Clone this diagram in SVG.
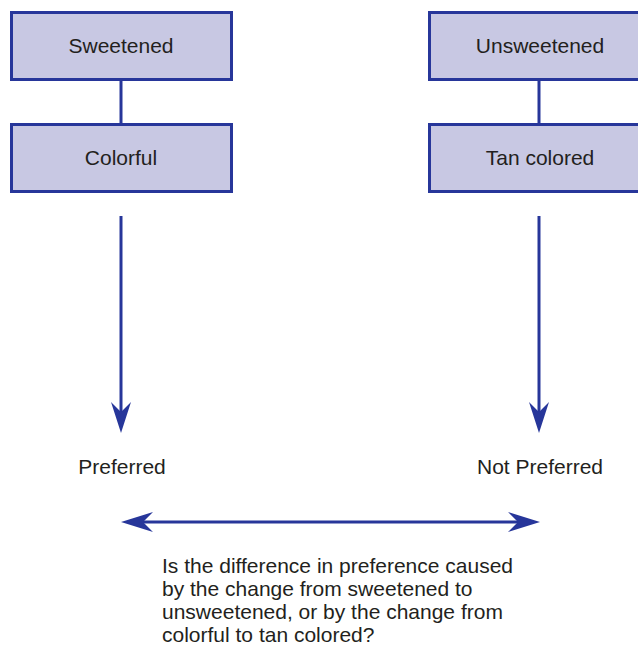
<svg xmlns="http://www.w3.org/2000/svg" width="638" height="646" viewBox="0 0 638 646">
<style>
.box{fill:#c8c8e3;stroke:#27369a;stroke-width:3}
.lbl{font-family:"Liberation Sans",Arial,sans-serif;font-size:21px;fill:#231f20}
.c{text-anchor:middle}
.ln{stroke:#27369a;stroke-width:3;fill:none}
.ah{fill:#27369a}
</style>
<rect width="638" height="646" fill="#fff"/>
<g id="connectors">
<line class="ln" x1="121" y1="79" x2="121" y2="124"/>
<line class="ln" x1="539" y1="79" x2="539" y2="124"/>
<line class="ln" x1="121" y1="216" x2="121" y2="420"/>
<path class="ah" d="M121,433 L111,402 L121,412 L131,402 Z"/>
<line class="ln" x1="539" y1="216" x2="539" y2="420"/>
<path class="ah" d="M539,433 L529,402 L539,412 L549,402 Z"/>
<line class="ln" x1="135" y1="522" x2="525" y2="522"/>
<path class="ah" d="M121,522 L153,512 L143,522 L153,532 Z"/>
<path class="ah" d="M540,522 L508,512 L518,522 L508,532 Z"/>
</g>
<g id="sweetened"><rect class="box" x="11.5" y="12.5" width="220" height="67"/><text class="lbl c" x="121" y="53">Sweetened</text></g>
<g id="colorful"><rect class="box" x="11.5" y="124.5" width="220" height="67"/><text class="lbl c" x="121" y="165">Colorful</text></g>
<g id="unsweetened"><rect class="box" x="429.5" y="12.5" width="220" height="67"/><text class="lbl c" x="540" y="53">Unsweetened</text></g>
<g id="tan"><rect class="box" x="429.5" y="124.5" width="220" height="67"/><text class="lbl c" x="540" y="165">Tan colored</text></g>
<g id="preferred"><text class="lbl c" x="122" y="474">Preferred</text></g>
<g id="notpreferred"><text class="lbl c" x="540" y="474">Not Preferred</text></g>
<g id="question"><text class="lbl" x="162" y="573">
<tspan x="162" y="573">Is the difference in preference caused</tspan>
<tspan x="162" y="596">by the change from sweetened to</tspan>
<tspan x="162" y="619">unsweetened, or by the change from</tspan>
<tspan x="162" y="642">colorful to tan colored?</tspan>
</text></g>
</svg>
